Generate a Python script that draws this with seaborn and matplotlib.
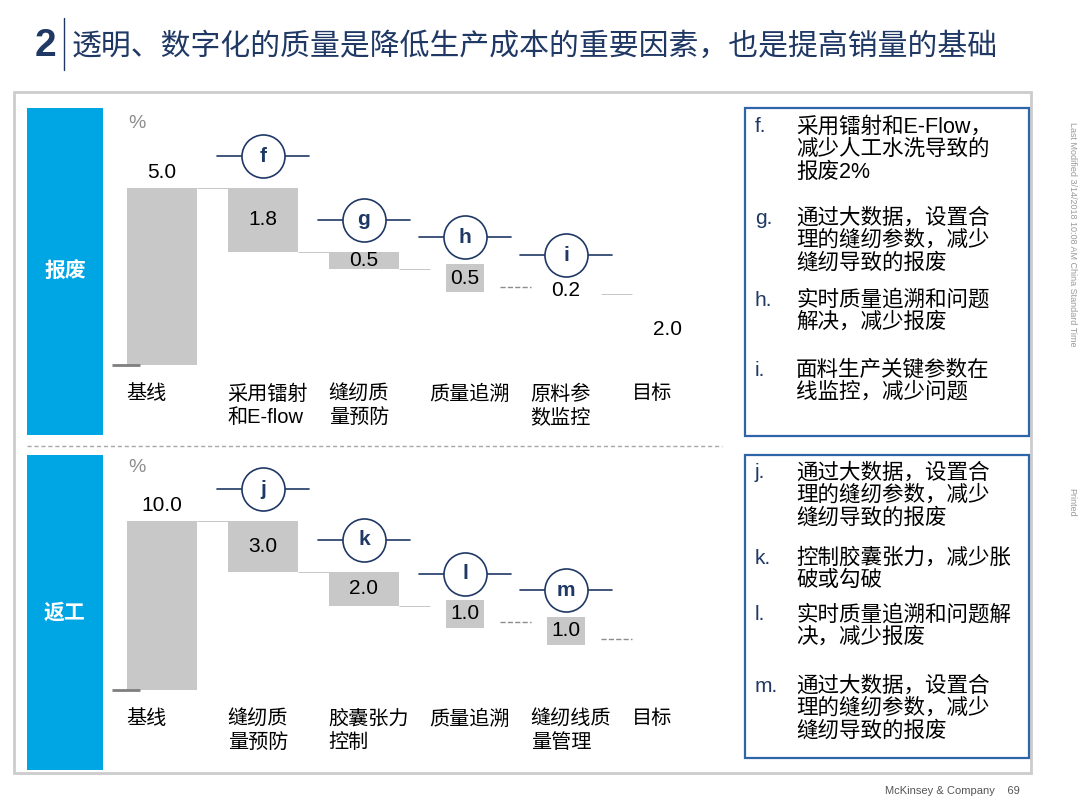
import numpy as np
import pandas as pd
import matplotlib.pyplot as plt
import matplotlib.transforms as mtransforms
from matplotlib.patches import Rectangle
from matplotlib.lines import Line2D
import seaborn as sns

# ---- data ----
scrap_cats = ['基线', '采用镭射\n和E-flow', '缝纫质\n量预防', '质量追溯', '原料参\n数监控', '目标']
scrap_vals = [5.0, -1.8, -0.5, -0.5, -0.2, 2.0]
scrap_labels = ['5.0', '1.8', '0.5', '0.5', '0.2', '2.0']
scrap_tags = ['', 'f', 'g', 'h', 'i', '']

rework_cats = ['基线', '缝纫质\n量预防', '胶囊张力\n控制', '质量追溯', '缝纫线质\n量管理', '目标']
rework_vals = [10.0, -3.0, -2.0, -1.0, -1.0, 3.0]
rework_labels = ['10.0', '3.0', '2.0', '1.0', '1.0', '']
rework_tags = ['', 'j', 'k', 'l', 'm', '']

scrap_notes = [('f.', ['采用镭射和E-Flow，', '减少人工水洗导致的', '报废2%']),
               ('g.', ['通过大数据，设置合', '理的缝纫参数，减少', '缝纫导致的报废']),
               ('h.', ['实时质量追溯和问题', '解决，减少报废']),
               ('i.', ['面料生产关键参数在', '线监控，减少问题'])]
rework_notes = [('j.', ['通过大数据，设置合', '理的缝纫参数，减少', '缝纫导致的报废']),
                ('k.', ['控制胶囊张力，减少胀', '破或勾破']),
                ('l.', ['实时质量追溯和问题解', '决，减少报废']),
                ('m.', ['通过大数据，设置合', '理的缝纫参数，减少', '缝纫导致的报废'])]

# ---- style ----
GREY = '#C8C8C8'
NAVY = '#1F3864'
BLUE = '#00A6E4'
BOXBLUE = '#2E64A8'

sns.set_theme(style='white')
plt.rcParams['font.family'] = ['Liberation Sans', 'Noto Sans CJK SC', 'DejaVu Sans']

fig = plt.figure(figsize=(10.8, 8.1), dpi=100)


def px(x, y):
    return x / 1080, 1 - y / 810


def waterfall(vals):
    bottoms, heights, tops = [], [], []
    run = 0.0
    last = len(vals) - 1
    for i, v in enumerate(vals):
        if i == 0:
            bottoms.append(0.0); heights.append(v); run = v
        elif i == last:
            bottoms.append(0.0); heights.append(v)
        else:
            bottoms.append(run + v); heights.append(-v); run += v
        tops.append(bottoms[-1] + heights[-1])
    return bottoms, heights, tops


def draw_panel(ax, cats, vals, labels, tags, widths, faces, boxed, conn_styles):
    bottoms, heights, tops = waterfall(vals)
    sns.barplot(x=cats, y=heights, bottom=bottoms, order=cats, color=GREY,
                saturation=1, width=0.7, ax=ax)
    for i, p in enumerate(ax.patches[:len(cats)]):
        p.set_width(widths[i])
        p.set_x(i - widths[i] / 2)
        p.set_facecolor(faces[i])
        p.set_edgecolor('none')

    # connectors: level after each bar
    for i in range(len(cats) - 1):
        level = tops[0] if i == 0 else bottoms[i]
        ls, col = conn_styles[i]
        ax.hlines(level, i + 0.35, i + 0.65, colors=col, linestyles=ls,
                  lw=1.0 if ls == '--' else 0.6)

    # short baseline stub at the left
    ax.hlines(0, -0.5, -0.22, colors='#7F7F7F', lw=2)

    # value labels
    for i, lab in enumerate(labels):
        if not lab:
            continue
        if i == 0:
            ax.annotate(lab, xy=(i, tops[i]), xytext=(0, 4), textcoords='offset points',
                        ha='center', va='bottom', fontsize=15, color='black')
        else:
            y = bottoms[i] + heights[i] / 2
            bb = dict(boxstyle='square,pad=0.22', fc=GREY, ec='none') if boxed[i] else None
            ax.text(i, y, lab, ha='center', va='center', fontsize=15, color='black', bbox=bb)

    # lettered circle markers
    tr = mtransforms.offset_copy(ax.transData, fig=fig, y=23, units='points')
    for i, t in enumerate(tags):
        if not t:
            continue
        top = tops[i]
        ax.plot([i - 0.46, i + 0.46], [top, top], color=NAVY, lw=1.2, transform=tr,
                clip_on=False, zorder=5)
        ax.plot([i], [top], marker='o', ms=31, mfc='white', mec=NAVY, mew=1.2,
                transform=tr, clip_on=False, zorder=6)
        ax.text(i, top, t, ha='center', va='center', fontsize=15, fontweight='bold',
                color=NAVY, transform=tr, zorder=7)

    # category labels
    for i, c in enumerate(cats):
        ax.annotate(c, xy=(i - 0.35, 0), xytext=(0, -14), textcoords='offset points',
                    ha='left', va='top', fontsize=14.5, color='black', linespacing=1.3,
                    annotation_clip=False)

    ax.set_xlim(-0.5, 5.5)
    ax.set(xticks=[], yticks=[], xlabel='', ylabel='')
    sns.despine(ax=ax, left=True, bottom=True)
    ax.patch.set_alpha(0)


# ---- slide frame ----
fig.add_artist(Rectangle(px(14, 773), 1017 / 1080, 681 / 810, transform=fig.transFigure,
                         fill=False, ec='#CCCCCC', lw=2))
fig.text(*px(45, 46), '2', fontsize=28, color=NAVY, ha='center', va='center',
         fontweight='bold')
fig.add_artist(Line2D([64 / 1080, 64 / 1080], [1 - 18 / 810, 1 - 70 / 810], color=NAVY, lw=1))
fig.text(*px(72, 47), '透明、数字化的质量是降低生产成本的重要因素，也是提高销量的基础',
         fontsize=21.5, color=NAVY, ha='left', va='center')

# left blue tabs
for (y0, y1, name) in [(108, 435, '报废'), (455, 770, '返工')]:
    fig.add_artist(Rectangle(px(27, y1), 76 / 1080, (y1 - y0) / 810,
                             transform=fig.transFigure, fc=BLUE, ec='none'))
    fig.text(*px(65, (y0 + y1) / 2), name, color='white', fontsize=15, fontweight='bold',
             ha='center', va='center')

fig.add_artist(Line2D([27 / 1080, 722 / 1080], [1 - 446 / 810] * 2, color='#A8A8A8',
                      lw=1, ls=(0, (3, 2))))

# right note boxes
for (y0, y1, notes, starts) in [(108, 436, scrap_notes, [127, 218, 300, 370]),
                                (455, 758, rework_notes, [473, 558, 615, 686])]:
    fig.add_artist(Rectangle(px(745, y1), 284 / 1080, (y1 - y0) / 810,
                             transform=fig.transFigure, fill=False, ec=BOXBLUE, lw=1.6))
    for (letter, lines), ys in zip(notes, starts):
        fig.text(*px(755, ys), letter, color=NAVY, fontsize=15, ha='left', va='center')
        for k, line in enumerate(lines):
            fig.text(*px(796, ys + k * 22.5), line, color='black', fontsize=15.5,
                     ha='left', va='center')

# % units
fig.text(*px(137, 124), '%', color='#8C8C8C', fontsize=14, ha='center', va='center')
fig.text(*px(137, 468), '%', color='#8C8C8C', fontsize=14, ha='center', va='center')

# ---- waterfalls ----
ax1 = fig.add_axes([111.5 / 1080, 1 - 435 / 810, 606 / 1080, 325 / 810])
draw_panel(ax1, scrap_cats, scrap_vals, scrap_labels, scrap_tags,
           widths=[0.7, 0.7, 0.7, 0.35, 0.7, 0.7],
           faces=[GREY, GREY, GREY, GREY, 'none', 'none'],
           boxed=[False, False, False, True, False, False],
           conn_styles=[('-', '#BDBDBD'), ('-', '#BDBDBD'), ('-', '#BDBDBD'),
                        ('--', '#8C8C8C'), ('-', '#BDBDBD')])
ax1.set_ylim(-70 / 35.4, 255 / 35.4)

ax2 = fig.add_axes([111.5 / 1080, 1 - 770 / 810, 606 / 1080, 313 / 810])
draw_panel(ax2, rework_cats, rework_vals, rework_labels, rework_tags,
           widths=[0.7, 0.7, 0.7, 0.35, 0.35, 0.7],
           faces=[GREY, GREY, GREY, GREY, GREY, 'none'],
           boxed=[False, False, False, True, True, False],
           conn_styles=[('-', '#BDBDBD'), ('-', '#BDBDBD'), ('-', '#BDBDBD'),
                        ('--', '#8C8C8C'), ('--', '#8C8C8C')])
ax2.set_ylim(-80 / 16.9, 233 / 16.9)

# side and footer notes
fig.text(*px(1072, 122), 'Last Modified 3/14/2018 10:08 AM China Standard Time', rotation=270,
         fontsize=6.5, color='#9A9A9A', ha='center', va='top')
fig.text(*px(1072, 488), 'Printed', rotation=270, fontsize=6.5, color='#9A9A9A',
         ha='center', va='top')
fig.text(*px(1020, 791), 'McKinsey & Company    69', fontsize=8, color='#555555',
         ha='right', va='center')

fig.savefig('out.png', dpi=100)
